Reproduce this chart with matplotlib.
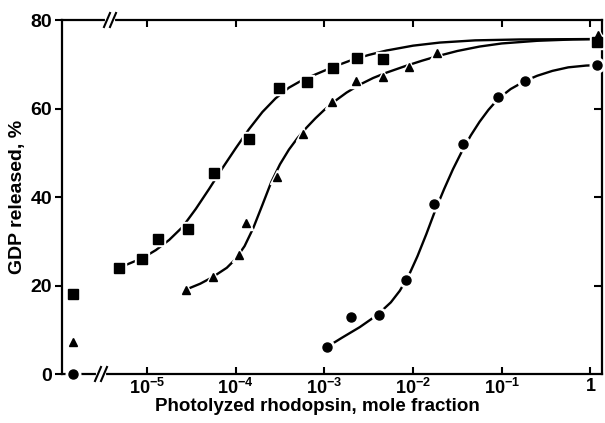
import matplotlib
matplotlib.use('Agg')
import matplotlib.pyplot as plt

plt.rcParams['font.family'] = ['Liberation Sans', 'DejaVu Sans']
plt.rcParams['font.weight'] = 'bold'
plt.rcParams['axes.labelweight'] = 'bold'
plt.rcParams['mathtext.fontset'] = 'custom'
plt.rcParams['mathtext.rm'] = 'Liberation Sans:bold'
plt.rcParams['mathtext.it'] = 'Liberation Sans:bold'

# measured points (mole fraction of photolyzed rhodopsin, % GDP released)
sq_x = [4.83e-6, 8.79e-6, 1.33e-5, 2.90e-5, 5.69e-5, 1.41e-4, 3.08e-4,
        6.37e-4, 1.25e-3, 2.33e-3, 4.58e-3, 1.18]
sq_y = [24.0, 26.0, 30.5, 32.8, 45.4, 53.1, 64.6, 66.0, 69.2, 71.4, 71.2, 75.0]

tri_x = [2.75e-5, 5.55e-5, 1.09e-4, 1.31e-4, 2.92e-4, 5.74e-4, 1.22e-3,
         2.27e-3, 4.58e-3, 9.0e-3, 1.86e-2, 1.22]
tri_y = [19.0, 21.9, 26.9, 34.1, 44.5, 54.2, 61.5, 66.2, 67.1, 69.4, 72.5, 76.6]

circ_x = [1.07e-3, 2.0e-3, 4.13e-3, 8.32e-3, 1.72e-2, 3.66e-2, 9.06e-2, 0.183, 1.18]
circ_y = [6.1, 12.9, 13.3, 21.2, 38.4, 52.0, 62.6, 66.2, 69.8]

# values at zero photolyzed rhodopsin (drawn left of the axis break)
zero_sq = 18.1
zero_tri = 7.2
zero_circ = 0.0

# fitted curves
sq_fit_x = [4.83e-6, 8.91e-6, 1.26e-5, 1.78e-5, 2.51e-5, 3.55e-5, 5.01e-5,
            7.08e-5, 1.0e-4, 1.41e-4, 2.0e-4, 2.82e-4, 3.98e-4, 5.62e-4,
            7.94e-4, 1.26e-3, 2.0e-3, 3.16e-3, 5.01e-3, 1.0e-2, 2.0e-2,
            5.01e-2, 0.158, 1.18]
sq_fit_y = [24.0, 26.2, 28.0, 30.3, 33.2, 37.3, 41.8, 46.5, 51.0, 55.3,
            59.2, 62.3, 64.7, 66.4, 67.7, 69.4, 70.9, 72.1, 73.1, 74.2,
            74.9, 75.4, 75.6, 75.7]

tri_fit_x = [2.69e-5, 3.98e-5, 5.5e-5, 7.94e-5, 1.0e-4, 1.26e-4, 1.58e-4,
             2.0e-4, 2.51e-4, 3.16e-4, 3.98e-4, 5.01e-4, 6.31e-4, 7.94e-4,
             1.0e-3, 1.26e-3, 1.78e-3, 2.51e-3, 3.55e-3, 5.01e-3, 7.94e-3,
             1.26e-2, 1.86e-2, 3.16e-2, 5.62e-2, 0.1, 0.251, 0.631, 1.22]
tri_fit_y = [19.0, 20.4, 21.9, 24.0, 26.0, 28.9, 33.0, 38.2, 43.3, 47.4,
             50.7, 53.4, 55.7, 57.8, 59.7, 61.4, 63.6, 65.4, 66.9, 68.1,
             69.5, 70.8, 71.8, 73.0, 74.0, 74.7, 75.3, 75.6, 75.7]

circ_fit_x = [1.07e-3, 1.58e-3, 2.51e-3, 3.98e-3, 5.62e-3, 7.08e-3, 8.91e-3,
              1.12e-2, 1.41e-2, 1.78e-2, 2.24e-2, 2.82e-2, 3.55e-2, 4.47e-2,
              5.62e-2, 7.08e-2, 9.12e-2, 0.126, 0.182, 0.251, 0.372, 0.562,
              0.891, 1.18]
circ_fit_y = [6.1, 8.2, 10.6, 13.4, 16.2, 18.8, 22.2, 26.6, 31.6, 37.0,
              41.8, 46.3, 50.3, 53.9, 57.0, 59.7, 62.2, 64.4, 66.2, 67.4,
              68.5, 69.3, 69.7, 69.8]

xticks = [1e-5, 1e-4, 1e-3, 1e-2, 1e-1, 1]
xticklabels = ['10$^{-5}$', '10$^{-4}$', '10$^{-3}$', '10$^{-2}$', '10$^{-1}$', '1']
yticks = [0, 20, 40, 60, 80]

ZERO_POS = 1.47e-6

fig = plt.figure(figsize=(6.05, 4.23), dpi=100)
ax = fig.add_axes([62 / 605, 49 / 423, 540 / 605, 354 / 423])
ax.set_xscale('log')

lw = 1.7
ax.plot(sq_fit_x, sq_fit_y, color='black', lw=lw, zorder=2)
ax.plot(tri_fit_x, tri_fit_y, color='black', lw=lw, zorder=2)
ax.plot(circ_fit_x, circ_fit_y, color='black', lw=lw, zorder=2)

def points(x, y, marker, ms):
    ax.plot(x, y, ls='none', marker=marker, ms=ms + 4, color='white',
            markeredgecolor='white', zorder=3, clip_on=False)
    ax.plot(x, y, ls='none', marker=marker, ms=ms, color='black',
            markeredgecolor='black', zorder=4, clip_on=False)

points(sq_x + [ZERO_POS], sq_y + [zero_sq], 's', 6.5)
points(tri_x + [ZERO_POS], tri_y + [zero_tri], '^', 6)
points(circ_x + [ZERO_POS], circ_y + [zero_circ], 'o', 6.5)

ax.set_xlim(10 ** -5.958, 10 ** 0.13)
ax.set_ylim(0, 80)
ax.set_xticks(xticks)
ax.set_xticklabels(xticklabels)
ax.minorticks_off()
ax.set_yticks(yticks)

for s in ax.spines.values():
    s.set_linewidth(1.6)

ax.tick_params(axis='x', direction='in', top=True, length=5, width=1.5,
               labelsize=13, pad=3)
ax.tick_params(axis='y', direction='out', length=5, width=1.5, labelsize=14, pad=2)

right = ax.secondary_yaxis('right')
right.set_yticks([20, 40, 60])
right.tick_params(direction='in', length=6, width=1.5, labelright=False)
right.spines['right'].set_visible(False)

ax.set_xlabel('Photolyzed rhodopsin, mole fraction', fontsize=13.5)
ax.xaxis.set_label_coords(0.472, -0.068)
ax.set_ylabel('GDP released, %', fontsize=14, labelpad=3)

# axis break marks on bottom and top spines
def axis_break(xc, yc):
    dx = 3 / 540
    dy = 7 / 354
    gap = 6 / 540
    ax.plot([xc - gap / 2, xc + gap / 2], [yc, yc], color='white', lw=3,
            transform=ax.transAxes, clip_on=False, zorder=5)
    for off in (-gap / 2, gap / 2):
        ax.plot([xc + off - dx, xc + off + dx], [yc - dy, yc + dy],
                color='black', lw=1.5, transform=ax.transAxes,
                clip_on=False, zorder=6)

axis_break((101 - 62) / 540, 0)
axis_break((110 - 62) / 540, 1)

fig.savefig('out.png', dpi=100)
